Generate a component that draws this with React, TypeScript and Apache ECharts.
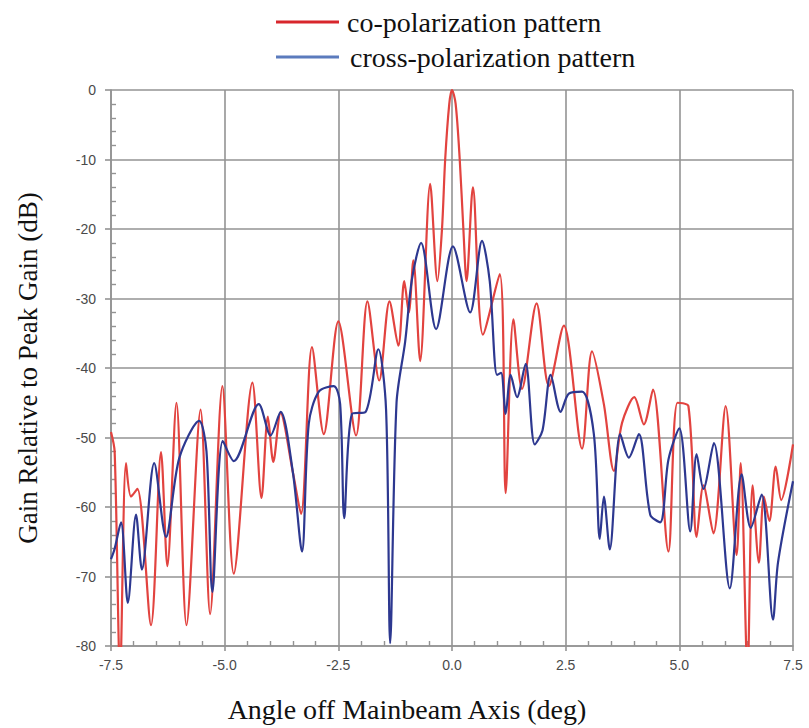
import React, { useEffect, useRef } from "react";
import * as echarts from "echarts";

// Co-polarization pattern (angle in deg, gain in dB relative to peak)
const coAngles = [
  -7.5, -7.42, -7.3, -7.17, -7.06, -6.92, -6.62, -6.4, -6.26, -6.06, -5.84, -5.53, -5.32, -5.05,
  -4.8, -4.39, -4.19, -4.05, -3.93, -3.77, -3.5, -3.32, -3.08, -2.82, -2.5, -2.11, -1.86, -1.6,
  -1.375, -1.18, -1.05, -0.95, -0.85, -0.7, -0.48, -0.32, -0.22, -0.15, -0.06, 0, 0.08, 0.17, 0.25,
  0.32, 0.46, 0.68, 1.05, 1.18, 1.35,
  1.54, 1.86, 2.13, 2.46, 2.86, 3.08, 3.34, 3.56, 3.74, 4.01, 4.22, 4.42, 4.76, 4.96, 5.2, 5.38,
  5.53, 5.75, 6.02, 6.26, 6.35, 6.5, 6.61, 6.75, 6.86, 6.98, 7.12, 7.24, 7.5,
];
const coGain = [
  -49.2, -52, -84, -53.7, -58.5, -57.4, -77, -52.1, -68.5, -45, -77, -46, -75.4, -42.6,
  -69.6, -42.1, -58.7, -47, -53.5, -46.5, -55, -61, -37, -49.5, -33.3, -49.7, -30.4, -41.8,
  -30.4, -36.8, -27.5, -32, -24.5, -39, -13.5, -27.5, -20, -10, -2, 0, -2, -10, -20,
  -27.5, -14, -35.2, -26.5, -58, -33,
  -43, -30.7, -42.6, -33.9, -51.6, -37.6, -45.2, -54.8, -47.9, -44.2, -48.1, -43.1, -66.4, -45, -45.5, -64.3,
  -56.9, -63.8, -45.5, -66.9, -53.7, -84, -56.9, -68, -58.5, -62, -54.2, -59, -51,
];

// Cross-polarization pattern
const crossAngles = [
  -7.5, -7.42, -7.28, -7.13, -6.95, -6.82, -6.55, -6.29, -6.0, -5.56, -5.4, -5.27, -5.04, -4.8,
  -4.25, -3.99, -3.77, -3.5, -3.3, -3.15, -2.93, -2.6, -2.46, -2.37, -2.2, -1.9, -1.62, -1.45,
  -1.36, -1.22, -1.03, -0.88, -0.68, -0.35, 0.02, 0.4, 0.66, 0.83, 0.99, 1.08, 1.18, 1.29, 1.43,
  1.62, 1.82, 1.99, 2.17, 2.39, 2.57, 2.86, 3.12, 3.25, 3.34, 3.47, 3.7, 3.89, 4.11, 4.36, 4.58,
  4.76, 5.0, 5.24, 5.38, 5.53, 5.76, 6.11, 6.37, 6.57, 6.81, 7.06, 7.17, 7.5,
];
const crossGain = [
  -67.5, -66, -62.2, -73.8, -61.1, -69, -53.7, -64.3, -53, -47.6, -52, -72.2, -50.5, -53.4,
  -45.2, -49.7, -46.3, -55, -66.4, -48, -43.4, -42.6, -45.2, -61.6, -46.6, -46.3, -37.3, -46,
  -79.6, -45, -36.2, -27.2, -22, -34.4, -22.5, -32, -21.7, -27.5, -41, -40.7, -46.6, -41, -44.2,
  -39.4, -51, -49, -41, -46.3, -43.7, -43.4, -49.5, -64.6, -58.5, -66.1, -49.5, -52.9, -49.5, -61.1, -62.2,
  -53.2, -48.7, -63.5, -52.4, -57.4, -50.8, -71.7, -55.3, -63, -58.2, -76.2, -68, -56.3,
];

const seriesNames = ["co-polarization pattern", "cross-polarization pattern"];

const SERIF = "Liberation Serif";
const SANS = "Liberation Sans";
const GRID = "#939393";

export default function App() {
  const ref = useRef<HTMLDivElement>(null);

  useEffect(() => {
    document.body.style.margin = "0";
    if (!ref.current) return;
    const chart = echarts.init(ref.current, null, { renderer: "svg" });

    const coData = coAngles.map((x, i) => [x, coGain[i]]);
    const crossData = crossAngles.map((x, i) => [x, crossGain[i]]);

    const xBase = { type: "value", min: -7.5, max: 7.5, interval: 2.5 };
    const yBase = { type: "value", min: -80, max: 0, interval: 10 };

    const legendLine = (color: string, y: number) => ({
      type: "line",
      shape: { x1: 276, y1: y, x2: 339, y2: y },
      style: { stroke: color, lineWidth: 3 },
    });
    const legendText = (name: string, y: number, x: number) => ({
      type: "text",
      x,
      y,
      style: {
        text: name,
        fill: "#111",
        fontSize: 28,
        fontFamily: SERIF,
        verticalAlign: "middle",
      },
    });

    chart.setOption({
      animation: false,
      backgroundColor: "#ffffff",
      grid: { left: 111, right: 16, top: 90, bottom: 80, containLabel: false },
      graphic: [
        legendLine("#d8262c", 22),
        legendText(seriesNames[0], 22, 347),
        legendLine("#5b7bbd", 57),
        legendText(seriesNames[1], 57, 350),
      ],
      xAxis: [
        {
          ...xBase,
          position: "bottom",
          name: "Angle off Mainbeam Axis (deg)",
          nameLocation: "middle",
          nameGap: 49,
          nameTextStyle: {
            fontFamily: SERIF,
            fontSize: 28,
            color: "#111",
            padding: [0, 90, 0, 0],
          },
          axisLine: { show: true, onZero: false, lineStyle: { color: GRID, width: 1.6 } },
          axisTick: { show: true, inside: false, length: 5, lineStyle: { color: GRID, width: 1.6 } },
          axisLabel: {
            formatter: (v: number) => v.toFixed(1),
            fontFamily: SANS,
            fontSize: 14,
            color: "#4a4a4a",
            margin: 12,
          },
          splitLine: { show: true, lineStyle: { color: GRID, width: 1.6 } },
        },
        {
          ...xBase,
          position: "bottom",
          axisLine: { show: false, onZero: false },
          axisTick: { show: true, inside: true, length: 5, lineStyle: { color: GRID, width: 1.4, opacity: 0 } },
          axisLabel: { show: false },
          splitLine: { show: false },
          minorTick: { show: true, splitNumber: 5, length: 5, lineStyle: { color: GRID, width: 1.4 } },
        },
      ],
      yAxis: [
        {
          ...yBase,
          position: "left",
          name: "Gain Relative to Peak Gain (dB)",
          nameLocation: "middle",
          nameGap: 70,
          nameTextStyle: { fontFamily: SERIF, fontSize: 27, color: "#111" },
          axisLine: { show: true, onZero: false, lineStyle: { color: GRID, width: 1.6 } },
          axisTick: { show: true, inside: false, length: 6, lineStyle: { color: GRID, width: 1.6 } },
          axisLabel: { fontFamily: SANS, fontSize: 14, color: "#4a4a4a", margin: 15 },
          splitLine: { show: true, lineStyle: { color: GRID, width: 1.6 } },
        },
        {
          ...yBase,
          position: "left",
          axisLine: { show: false, onZero: false },
          axisTick: { show: true, inside: true, length: 5, lineStyle: { color: GRID, width: 1.4, opacity: 0 } },
          axisLabel: { show: false },
          splitLine: { show: false },
          minorTick: { show: true, splitNumber: 5, length: 5, lineStyle: { color: GRID, width: 1.4 } },
        },
      ],
      series: [
        {
          name: seriesNames[0],
          type: "line",
          data: coData,
          showSymbol: false,
          symbol: "none",
          smooth: 0.3,
          clip: true,
          lineStyle: { color: "#e2433f", width: 2.2 },
          z: 2,
        },
        {
          name: seriesNames[1],
          type: "line",
          data: crossData,
          showSymbol: false,
          symbol: "none",
          smooth: 0.3,
          clip: true,
          lineStyle: { color: "#2d3890", width: 2.2 },
          z: 3,
        },
      ],
    });

    return () => chart.dispose();
  }, []);

  return <div ref={ref} style={{ width: 809, height: 728 }} />;
}
